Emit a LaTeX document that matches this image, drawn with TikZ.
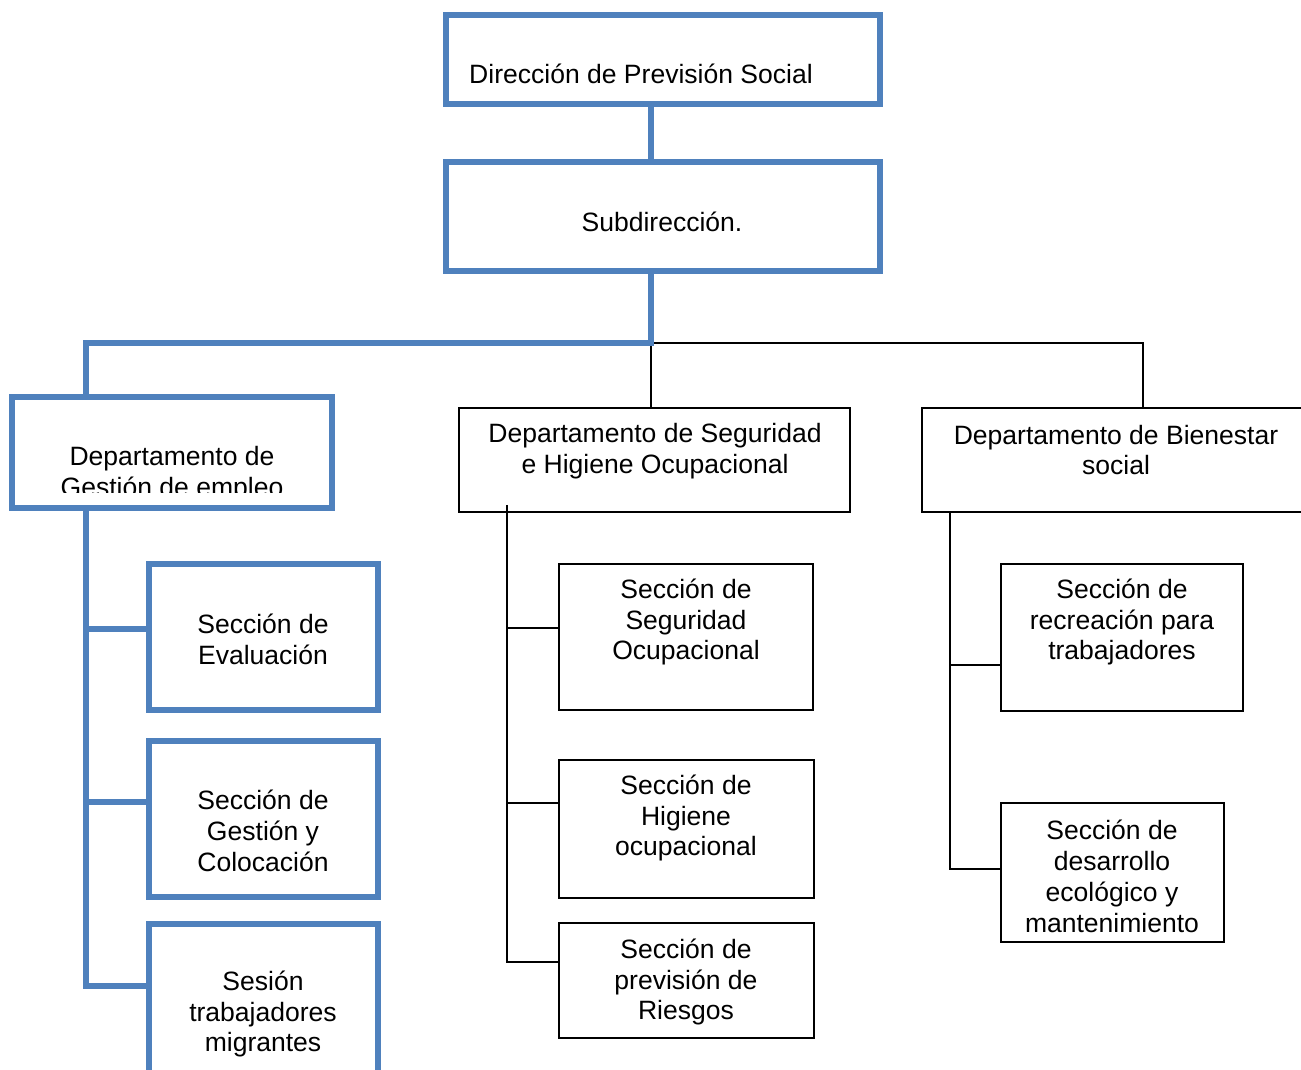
\documentclass[tikz,border=0pt]{standalone}
\usepackage{fontspec}
\setmainfont{Liberation Sans}
\definecolor{obl}{HTML}{4F81BD}
\begin{document}
\begin{tikzpicture}[x=0.02cm,y=-0.02cm,
  bbox/.style={draw=obl, line width=0.12cm, inner sep=0pt, fill=white},
  kbox/.style={draw=black, line width=0.04cm, inner sep=0pt, fill=white},
  bline/.style={draw=obl, line width=0.12cm},
  kline/.style={draw=black, line width=0.04cm},
  txt/.style={align=center, font=\fontsize{15.1}{17.6}\selectfont, inner sep=0pt}]
\useasboundingbox (0,0) rectangle (1301,1070);
% boxes
\node[bbox, minimum width=8.68cm, minimum height=1.78cm] (dir) at (663,59.5) {};
\node[bbox, minimum width=8.68cm, minimum height=2.2cm] (sub) at (663,216.5) {};
\node[bbox, minimum width=6.41cm, minimum height=2.22cm] (gest) at (172.2,452.5) {};
\node[bbox, minimum width=4.6cm, minimum height=2.94cm] (eval) at (263.5,637) {};
\node[bbox, minimum width=4.6cm, minimum height=3.14cm] (gyc) at (263.5,819) {};
\node[bbox, minimum width=4.6cm, minimum height=3.53cm] (mig) at (263.5,1011.75) {};
\node[kbox, minimum width=7.82cm, minimum height=2.08cm] (segd) at (654.5,460) {};
\node[kbox, minimum width=5.1cm, minimum height=2.94cm] (so) at (686,637) {};
\node[kbox, minimum width=5.1cm, minimum height=2.76cm] (hig) at (686.5,829) {};
\node[kbox, minimum width=5.1cm, minimum height=2.3cm] (rie) at (686.5,980.5) {};
\node[kbox, minimum width=7.96cm, minimum height=2.08cm] (bien) at (1121,460) {};
\node[kbox, minimum width=4.84cm, minimum height=2.94cm] (rec) at (1122,637.5) {};
\node[kbox, minimum width=4.46cm, minimum height=2.78cm] (des) at (1112.5,872.5) {};
% junction coordinates
\coordinate (j1) at (650.5,343);
\coordinate (gl) at (86,343);
\coordinate (rl) at (1143,343);
\coordinate (ml) at (507,505);
\coordinate (m1) at (507,628);
\coordinate (m2) at (507,803);
\coordinate (m3) at (507,962);
\coordinate (r1) at (950,665);
\coordinate (r2) at (950,869);
\coordinate (g1) at (86,629);
\coordinate (g2) at (86,802);
\coordinate (g3) at (86,986);
% black connectors
\draw[kline] (j1) -| (rl |- bien.north);
\draw[kline] (j1) -- (j1 |- segd.north);
\draw[kline] (ml) -- (m3) -- (m3 -| rie.west);
\draw[kline] (m1) -- (m1 -| so.west);
\draw[kline] (m2) -- (m2 -| hig.west);
\draw[kline] (bien.south -| r2) -- (r2) -- (r2 -| des.west);
\draw[kline] (r1) -- (r1 -| rec.west);
% blue connectors
\draw[bline] (dir.south -| j1) -- (sub.north -| j1);
\draw[bline, line join=miter] (sub.south -| j1) -- (j1) -- (gl) -- (gl |- gest.north);
\draw[bline, line join=miter] (gest.south -| gl) -- (g3) -- (g3 -| mig.west);
\draw[bline] (g1) -- (g1 -| eval.west);
\draw[bline] (g2) -- (g2 -| gyc.west);
% texts
\node[txt] (dirt) at (641,74) {Dirección de Previsión Social};
\node[txt] (subt) at (662,222) {Subdirección.};
\begin{scope}
\clip (0,0) rectangle (1301,493);
\node[txt] (gestt) at (172,474) {Departamento de\\Gestión de empleo};
\end{scope}
\node[txt] (evalt) at (263,639) {Sección de\\Evaluación};
\node[txt] (gyct) at (263,831) {Sección de\\Gestión y\\Colocación};
\node[txt] (migt) at (263,1014) {Sesión\\trabajadores\\migrantes};
\node[txt] (segdt) at (655,451) {Departamento de Seguridad\\e Higiene Ocupacional};
\node[txt] (bient) at (1116,450) {Departamento de Bienestar\\social};
\node[txt] (sot) at (686,622) {Sección de\\Seguridad\\Ocupacional};
\node[txt] (higt) at (686,818) {Sección de\\Higiene\\ocupacional};
\node[txt] (riet) at (686,982) {Sección de\\previsión de\\Riesgos};
\node[txt] (rect) at (1122,622) {Sección de\\recreación para\\trabajadores};
\node[txt] (dest) at (1112,876) {Sección de\\desarrollo\\ecológico y\\mantenimiento};
\end{tikzpicture}
\end{document}
